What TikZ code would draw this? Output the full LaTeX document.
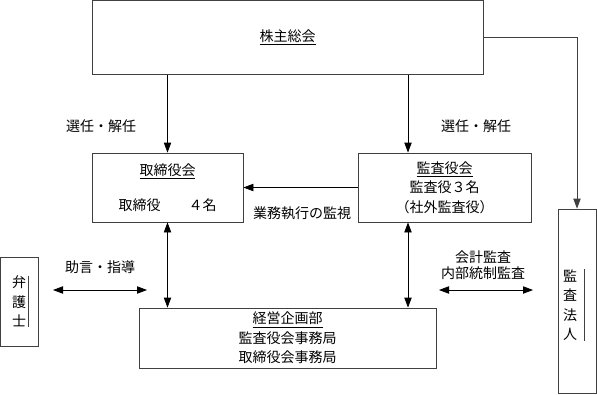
\documentclass[tikz,border=0pt]{standalone}
\usepackage{fontspec}
\setmainfont{Noto Sans CJK JP}
\usepackage{tikz}
\usetikzlibrary{arrows.meta, positioning}
\newcommand{\jpfont}{\fontsize{10.5pt}{14.5pt}\selectfont}
\tikzset{
  box/.style={
    rectangle, draw=black!75, line width=0.6pt,
    inner sep=0pt, align=center, font=\jpfont
  },
  lbl/.style={inner sep=0pt, align=center, font=\jpfont},
  vtext/.style={inner xsep=#1, inner ysep=0pt, align=center, font=\jpfont},
  arrow/.style={-{Triangle[length=7.5pt,width=5.5pt]}, line width=0.6pt, draw=black},
  darrow/.style={{Triangle[length=7.5pt,width=5.5pt]}-{Triangle[length=7.5pt,width=5.5pt]}, line width=0.6pt, draw=black}
}

\begin{document}
\begin{tikzpicture}[x=0.75pt, y=-0.75pt]
  \useasboundingbox (0,0) rectangle (597,394);

  \node[box, minimum width=293.25pt, minimum height=55.5pt] (soukai) at (287.5,37.5) {\underline{株主総会}};
  \node[box, minimum width=113.25pt, minimum height=51.75pt] (torikai) at (167.5,187.5) {\underline{取締役会}\\[11.75pt]取締役　　４名};
  \node[box, minimum width=129.75pt, minimum height=51.75pt] (kansakai) at (444.5,187.5) {\underline{監査役会}\\監査役３名\\（社外監査役）};
  \node[box, minimum width=222.75pt, minimum height=45pt] (keiei) at (287.5,338) {\underline{経営企画部}\\監査役会事務局\\取締役会事務局};
  \node[box, minimum width=28.1pt, minimum height=66.75pt] (bengoshi) at (19.25,301.5) {};
  \node[vtext=1pt] (bengoshi-t) at (bengoshi) {弁\\護\\士};
  \node[box, minimum width=28.5pt, minimum height=138pt] (houjin) at (577,301) {};
  \node[vtext=5.25pt] (houjin-t) at (570,305) {監\\査\\法\\人};

  \node[lbl] (sennin1) at (101,126) {選任・解任};
  \node[lbl] (sennin2) at (476,126) {選任・解任};
  \node[lbl] (kanshi) at (302,213) {業務執行の監視};
  \node[lbl] (jogen) at (100,267) {助言・指導};
  \node[lbl] (kaikei) at (483,265) {会計監査\\[-2.5pt]内部統制監査};

  \coordinate (kx) at ([xshift=-27.375pt]kansakai.north);
  \coordinate (jogenL) at (53,290);
  \coordinate (jogenR) at (147,290);
  \coordinate (kaikeiL) at (439,290);
  \coordinate (kaikeiR) at (533,290);

  \draw[arrow] (torikai.north |- soukai.south) -- (torikai.north);
  \draw[arrow] (kx |- soukai.south) -- (kx);
  \draw[arrow] (kansakai.west) -- (kansakai.west -| torikai.east);
  \draw[darrow] (torikai.south) -- (torikai.south |- keiei.north);
  \draw[darrow] (kx |- kansakai.south) -- (kx |- keiei.north);
  \draw[arrow, draw=black!75] (soukai.east) -| (houjin.north);
  \draw[darrow] (jogenL) -- (jogenR);
  \draw[darrow] (kaikeiL) -- (kaikeiR);
  \draw[black!75, line width=0.5pt] (bengoshi-t.north east) -- (bengoshi-t.south east);
  \draw[black!75, line width=0.5pt] (houjin-t.north east) -- (houjin-t.south east);
\end{tikzpicture}
\end{document}
